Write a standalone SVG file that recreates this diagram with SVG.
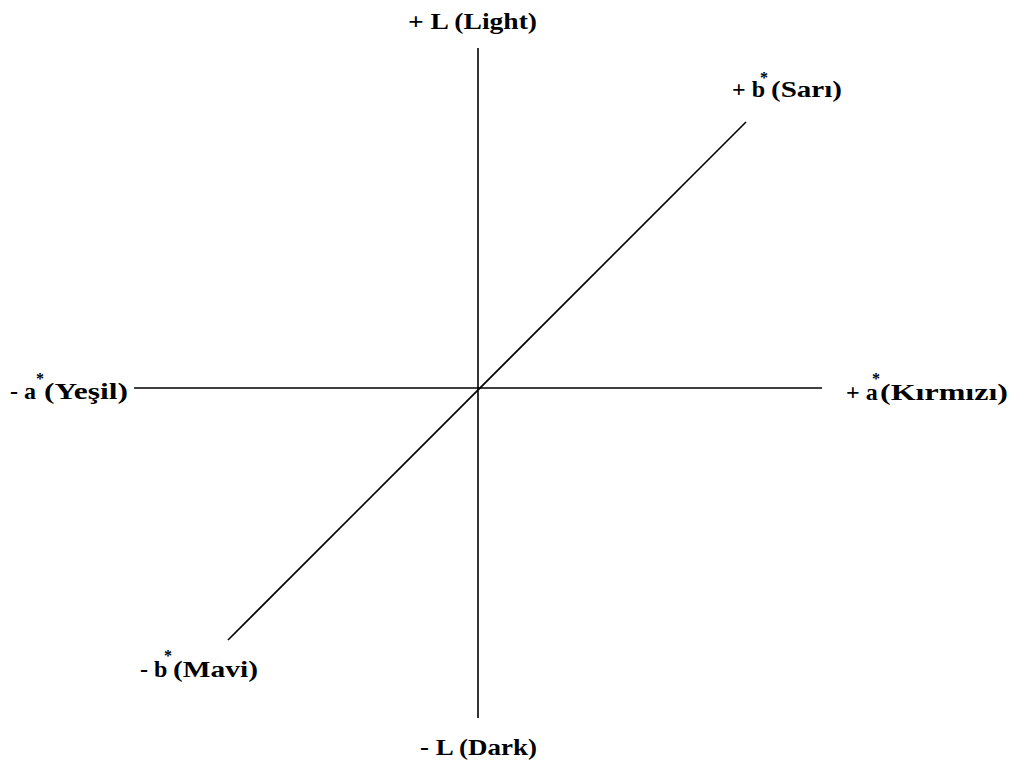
<svg xmlns="http://www.w3.org/2000/svg" width="1011" height="766" viewBox="0 0 1011 766">
<style>
.lbl{font-family:"Liberation Serif","Times New Roman",serif;font-weight:bold;font-size:24px;fill:#000}
.sup{font-family:"Liberation Serif","Times New Roman",serif;font-weight:bold;font-size:16px;fill:#000;text-anchor:middle}
.ax{stroke:#000;stroke-width:1.6;fill:none}
</style>
<rect width="1011" height="766" fill="#fff"/>
<g id="connectors">
<line class="ax" x1="478" y1="48" x2="478" y2="718"/>
<line class="ax" x1="134" y1="388" x2="822" y2="388"/>
<line class="ax" x1="228" y1="640" x2="746" y2="122"/>
</g>
<g id="node-light"><text class="lbl" x="408" y="29" textLength="129" lengthAdjust="spacingAndGlyphs">+ L (Light)</text></g>
<g id="node-dark"><text class="lbl" x="420" y="755" textLength="117" lengthAdjust="spacingAndGlyphs">- L (Dark)</text></g>
<g id="node-sari">
<text class="lbl" x="732" y="97">+ b</text>
<text class="sup" x="764" y="83">*</text>
<text class="lbl" x="771" y="97" textLength="71" lengthAdjust="spacingAndGlyphs">(Sarı)</text>
</g>
<g id="node-yesil">
<text class="lbl" x="10" y="399">- a</text>
<text class="sup" x="40" y="384">*</text>
<text class="lbl" x="44" y="399" textLength="84" lengthAdjust="spacingAndGlyphs">(Yeşil)</text>
</g>
<g id="node-kirmizi">
<text class="lbl" x="846" y="400">+ a</text>
<text class="sup" x="876" y="384">*</text>
<text class="lbl" x="880" y="400" textLength="128" lengthAdjust="spacingAndGlyphs">(Kırmızı)</text>
</g>
<g id="node-mavi">
<text class="lbl" x="140" y="677">- b</text>
<text class="sup" x="168" y="661">*</text>
<text class="lbl" x="173" y="677" textLength="85" lengthAdjust="spacingAndGlyphs">(Mavi)</text>
</g>
</svg>
